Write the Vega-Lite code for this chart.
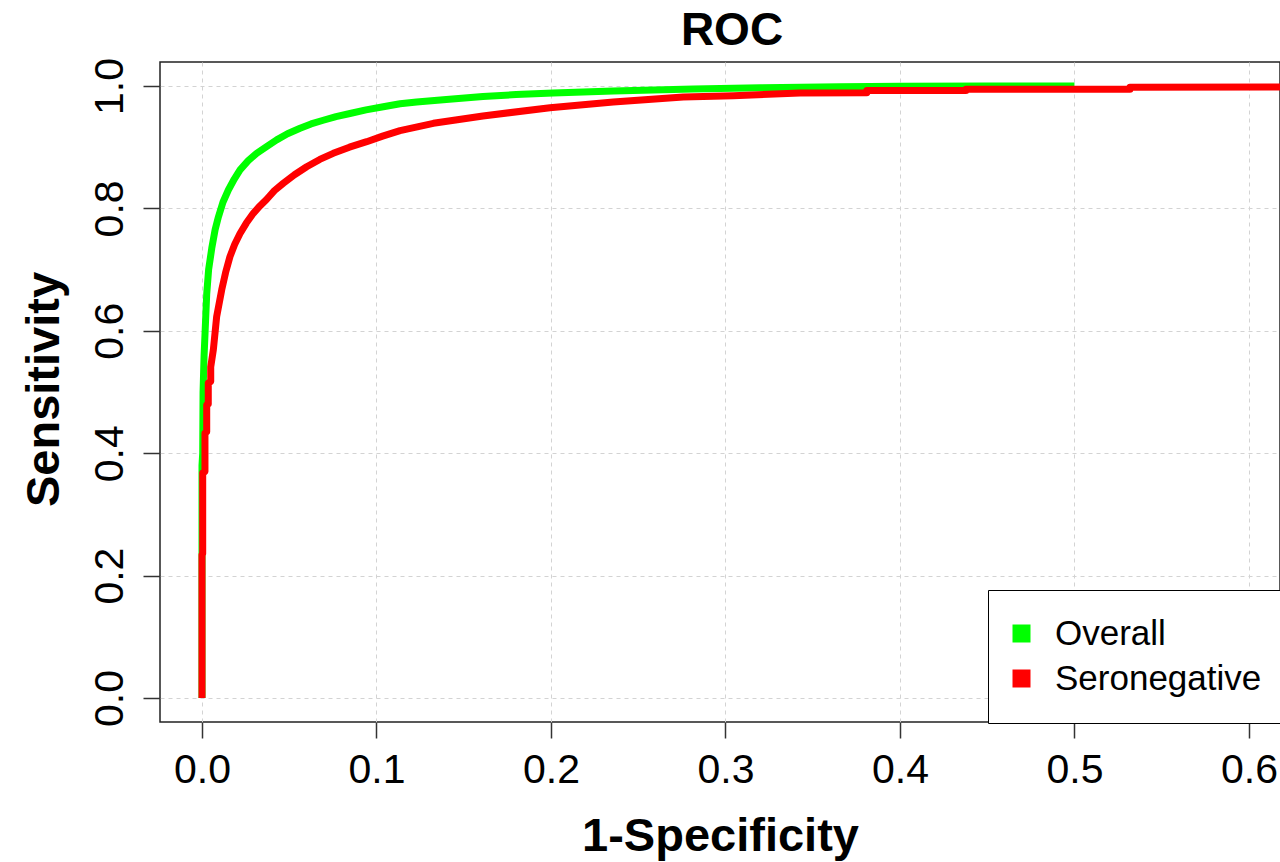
{
  "$schema": "https://vega.github.io/schema/vega-lite/v6.json",
  "width": 1120,
  "height": 660,
  "autosize": {"type": "none"},
  "padding": {"left": 160, "top": 62, "right": 0, "bottom": 140},
  "background": "white",
  "title": {"text": "ROC", "font": "Liberation Sans", "fontSize": 46, "fontWeight": "bold", "anchor": "middle", "baseline": "bottom", "offset": 7, "dx": 12, "dy": 51, "color": "black", "frame": "group"},
  "config": {
    "view": {"stroke": "#222", "strokeWidth": 1.5},
    "font": "Liberation Sans",
    "axis": {
      "domain": false,
      "grid": true,
      "gridColor": "#D3D3D3",
      "gridDash": [4, 4],
      "gridWidth": 1,
      "tickColor": "#333",
      "tickWidth": 1.5,
      "labelFont": "Liberation Sans",
      "labelFontSize": 41,
      "labelColor": "black",
      "titleFont": "Liberation Sans",
      "titleFontSize": 47,
      "titleFontWeight": "bold",
      "titleColor": "black"
    },
    "legend": {
      "orient": "none",
      "legendX": 828,
      "legendY": 528,
      "padding": 26,
      "strokeColor": "black",
      "fillColor": "white",
      "symbolType": "square",
      "symbolSize": 324,
      "symbolStrokeWidth": 0,
      "symbolOffset": -10,
      "labelFont": "Liberation Sans",
      "labelFontSize": 35,
      "labelColor": "black",
      "labelOffset": 16,
      "labelLimit": 500,
      "rowPadding": 9
    }
  },
  "data": {"values": [
    {"s": "Overall", "x": 0, "y": 0},
    {"s": "Overall", "x": 0, "y": 0.38},
    {"s": "Overall", "x": 0.0004, "y": 0.40},
    {"s": "Overall", "x": 0.0006, "y": 0.50},
    {"s": "Overall", "x": 0.0012, "y": 0.56},
    {"s": "Overall", "x": 0.0018, "y": 0.60},
    {"s": "Overall", "x": 0.0027, "y": 0.66},
    {"s": "Overall", "x": 0.0038, "y": 0.70},
    {"s": "Overall", "x": 0.0056, "y": 0.735},
    {"s": "Overall", "x": 0.0075, "y": 0.765},
    {"s": "Overall", "x": 0.0094, "y": 0.786},
    {"s": "Overall", "x": 0.012, "y": 0.81},
    {"s": "Overall", "x": 0.0151, "y": 0.83},
    {"s": "Overall", "x": 0.0185, "y": 0.848},
    {"s": "Overall", "x": 0.0218, "y": 0.863},
    {"s": "Overall", "x": 0.0265, "y": 0.878},
    {"s": "Overall", "x": 0.0313, "y": 0.89},
    {"s": "Overall", "x": 0.037, "y": 0.901},
    {"s": "Overall", "x": 0.0428, "y": 0.912},
    {"s": "Overall", "x": 0.049, "y": 0.922},
    {"s": "Overall", "x": 0.0562, "y": 0.931},
    {"s": "Overall", "x": 0.0625, "y": 0.938},
    {"s": "Overall", "x": 0.0695, "y": 0.944},
    {"s": "Overall", "x": 0.0768, "y": 0.95},
    {"s": "Overall", "x": 0.0848, "y": 0.955},
    {"s": "Overall", "x": 0.094, "y": 0.961},
    {"s": "Overall", "x": 0.1039, "y": 0.966},
    {"s": "Overall", "x": 0.1135, "y": 0.971},
    {"s": "Overall", "x": 0.123, "y": 0.974},
    {"s": "Overall", "x": 0.14, "y": 0.978},
    {"s": "Overall", "x": 0.161, "y": 0.983},
    {"s": "Overall", "x": 0.18, "y": 0.986},
    {"s": "Overall", "x": 0.2013, "y": 0.9886},
    {"s": "Overall", "x": 0.2357, "y": 0.9918},
    {"s": "Overall", "x": 0.2816, "y": 0.995},
    {"s": "Overall", "x": 0.32, "y": 0.997},
    {"s": "Overall", "x": 0.3656, "y": 0.9989},
    {"s": "Overall", "x": 0.4, "y": 0.9997},
    {"s": "Overall", "x": 0.45, "y": 1.0},
    {"s": "Overall", "x": 0.5, "y": 1.0},
    {"s": "Seronegative", "x": 0, "y": 0},
    {"s": "Seronegative", "x": 0, "y": 0.234},
    {"s": "Seronegative", "x": 0.0004, "y": 0.236},
    {"s": "Seronegative", "x": 0.0004, "y": 0.368},
    {"s": "Seronegative", "x": 0.0017, "y": 0.37},
    {"s": "Seronegative", "x": 0.0017, "y": 0.433},
    {"s": "Seronegative", "x": 0.0027, "y": 0.435},
    {"s": "Seronegative", "x": 0.0027, "y": 0.479},
    {"s": "Seronegative", "x": 0.0036, "y": 0.48},
    {"s": "Seronegative", "x": 0.0036, "y": 0.515},
    {"s": "Seronegative", "x": 0.005, "y": 0.517},
    {"s": "Seronegative", "x": 0.005, "y": 0.541},
    {"s": "Seronegative", "x": 0.0065, "y": 0.569},
    {"s": "Seronegative", "x": 0.0084, "y": 0.623},
    {"s": "Seronegative", "x": 0.0113, "y": 0.667},
    {"s": "Seronegative", "x": 0.0135, "y": 0.695},
    {"s": "Seronegative", "x": 0.016, "y": 0.721},
    {"s": "Seronegative", "x": 0.0187, "y": 0.741},
    {"s": "Seronegative", "x": 0.0218, "y": 0.759},
    {"s": "Seronegative", "x": 0.0254, "y": 0.776},
    {"s": "Seronegative", "x": 0.0294, "y": 0.792},
    {"s": "Seronegative", "x": 0.0332, "y": 0.804},
    {"s": "Seronegative", "x": 0.0371, "y": 0.815},
    {"s": "Seronegative", "x": 0.0415, "y": 0.829},
    {"s": "Seronegative", "x": 0.0466, "y": 0.841},
    {"s": "Seronegative", "x": 0.053, "y": 0.855},
    {"s": "Seronegative", "x": 0.06, "y": 0.868},
    {"s": "Seronegative", "x": 0.0675, "y": 0.88},
    {"s": "Seronegative", "x": 0.0752, "y": 0.89},
    {"s": "Seronegative", "x": 0.0845, "y": 0.9},
    {"s": "Seronegative", "x": 0.0944, "y": 0.909},
    {"s": "Seronegative", "x": 0.1035, "y": 0.918},
    {"s": "Seronegative", "x": 0.1135, "y": 0.927},
    {"s": "Seronegative", "x": 0.1326, "y": 0.939},
    {"s": "Seronegative", "x": 0.161, "y": 0.951},
    {"s": "Seronegative", "x": 0.1994, "y": 0.9646},
    {"s": "Seronegative", "x": 0.2357, "y": 0.9737},
    {"s": "Seronegative", "x": 0.2758, "y": 0.982},
    {"s": "Seronegative", "x": 0.3045, "y": 0.984},
    {"s": "Seronegative", "x": 0.3427, "y": 0.9886},
    {"s": "Seronegative", "x": 0.381, "y": 0.9891},
    {"s": "Seronegative", "x": 0.381, "y": 0.9926},
    {"s": "Seronegative", "x": 0.4378, "y": 0.9926},
    {"s": "Seronegative", "x": 0.4378, "y": 0.9948},
    {"s": "Seronegative", "x": 0.5318, "y": 0.9948},
    {"s": "Seronegative", "x": 0.5318, "y": 0.998},
    {"s": "Seronegative", "x": 1.0, "y": 1.0}
  ]},
  "encoding": {
    "x": {
      "field": "x", "type": "quantitative",
      "scale": {"domain": [-0.02407, 0.6178], "nice": false, "zero": false},
      "axis": {"values": [0, 0.1, 0.2, 0.3, 0.4, 0.5, 0.6], "format": ".1f", "tickSize": 16, "labelPadding": 12, "title": "1-Specificity", "titleBaseline": "top", "titleY": 91, "labelFlush": false, "labelOverlap": false}
    },
    "y": {
      "field": "y", "type": "quantitative",
      "scale": {"domain": [-0.0392, 1.0392], "nice": false, "zero": false},
      "axis": {"values": [0, 0.2, 0.4, 0.6, 0.8, 1.0], "format": ".1f", "tickSize": 17, "labelPadding": 21, "labelAngle": -90, "labelAlign": "center", "labelBaseline": "alphabetic", "title": "Sensitivity", "titleAngle": -90, "titleBaseline": "alphabetic", "titleAlign": "center", "titleX": -102, "titleY": 327, "labelFlush": false, "labelOverlap": false}
    },
    "color": {
      "field": "s", "type": "nominal",
      "scale": {"domain": ["Overall", "Seronegative"], "range": ["#00FF00", "#FF0000"]},
      "legend": {
        "title": null,
        "symbolType": "square",
        "encode": {"symbols": {"update": {"fill": {"scale": "color", "field": "value"}, "fillOpacity": {"value": 1}, "strokeWidth": {"value": 0}, "shape": {"value": "square"}, "size": {"value": 324}}}}
      }
    },
    "order": [{"field": "x"}, {"field": "y"}]
  },
  "layer": [
    {"transform": [{"filter": "datum.s === 'Overall'"}], "mark": {"type": "line", "strokeWidth": 7, "clip": true, "strokeCap": "butt", "strokeJoin": "round"}},
    {"transform": [{"filter": "datum.s === 'Seronegative'"}], "mark": {"type": "line", "strokeWidth": 7, "clip": true, "strokeCap": "butt", "strokeJoin": "round"}}
  ]
}
